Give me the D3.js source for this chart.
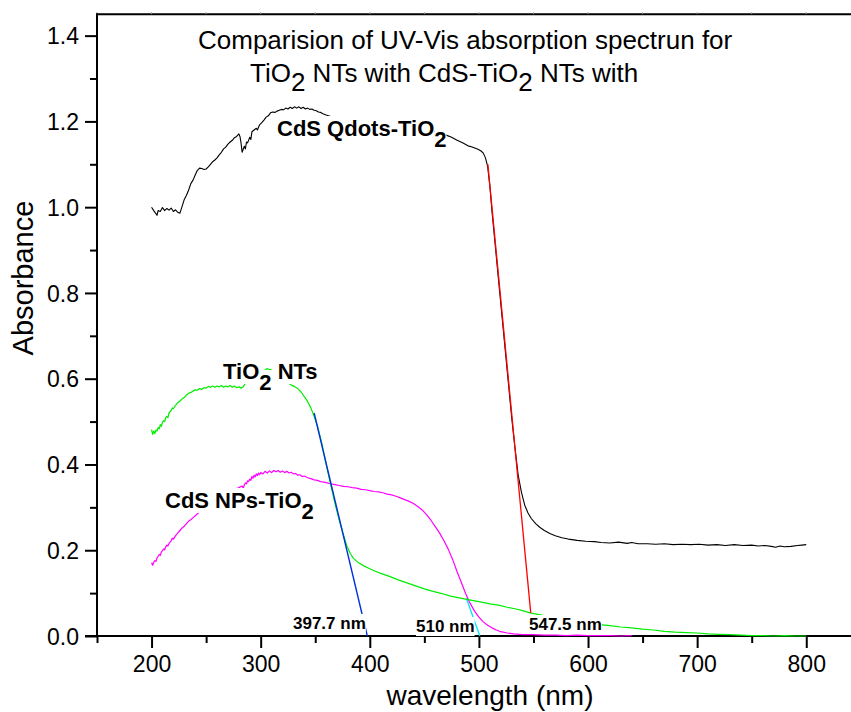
<!DOCTYPE html>
<html><head><meta charset="utf-8">
<script src="https://cdn.jsdelivr.net/npm/d3@7"></script>
<style>
body{margin:0;background:#fff}
svg{display:block}
text{font-family:"Liberation Sans",Arial,Helvetica,sans-serif;fill:#000}
</style>
</head><body>
<svg id="chart" width="851" height="712"></svg>
<script>
// ---------------- DATA ----------------
const xMajorTicks = [200, 300, 400, 500, 600, 700, 800];
const xMinorTicks = [150, 250, 350, 450, 550, 650, 750];
const yMajorTicks = [0.0, 0.2, 0.4, 0.6, 0.8, 1.0, 1.2, 1.4];
const yMinorTicks = [0.1, 0.3, 0.5, 0.7, 0.9, 1.1, 1.3];

const titleLine1 = [{t: "Comparision of UV-Vis absorption spectrun for"}];
const titleLine2 = [{t: "TiO"}, {t: "2", sub: true}, {t: " NTs with CdS-TiO"}, {t: "2", sub: true}, {t: " NTs with"}];
const xAxisTitle = "wavelength (nm)";
const yAxisTitle = "Absorbance";

const labelQdots = [{t: "CdS Qdots-TiO"}, {t: "2", sub: true}];
const labelNTs = [{t: "TiO"}, {t: "2", sub: true}, {t: " NTs"}];
const labelNPs = [{t: "CdS NPs-TiO"}, {t: "2", sub: true}];
const edgeLabels = ["397.7 nm", "510 nm", "547.5 nm"];

// CdS Qdots-TiO2 (black)
const qdotsWl = [200,202,204,205,206,208,210,212,214,216,218,220,222,224,226,228,230,232,234,236,238,240,242,244,246,248,250,252,254,256,258,260,262,264,266,268,270,272,274,276,278,280,281,282,283,284,285,286,287,288,290,291,292,294,296,297,299,301,303,305,307,309,311,313,315,317,319,321,323,325,327,329,331,333,335,337,339,341,343,345,347,349,351,353,355,357,360,370,380,390,400,410,420,430,440,450,460,470,475,480,485,490,493,495,498,500,502,504,506,508,510,512,515,518,521,524,527,530,533,536,539,542,545,548,552,556,560,565,570,576,582,590,598,606,612,620,628,636,640,646,654,662,670,678,686,694,702,710,718,726,734,742,750,756,762,768,772,776,780,786,792,796,800];
const qdotsAbs = [1.000,0.992,0.985,0.981,0.992,0.990,0.999,0.992,0.997,0.993,0.998,0.990,0.994,0.988,0.986,1.002,1.018,1.028,1.040,1.055,1.063,1.075,1.086,1.091,1.090,1.088,1.089,1.094,1.100,1.106,1.110,1.115,1.122,1.128,1.136,1.140,1.147,1.152,1.156,1.162,1.165,1.171,1.165,1.150,1.128,1.135,1.142,1.136,1.152,1.150,1.163,1.158,1.176,1.180,1.184,1.180,1.192,1.197,1.203,1.210,1.213,1.220,1.222,1.221,1.224,1.226,1.228,1.227,1.231,1.229,1.233,1.230,1.234,1.231,1.234,1.230,1.233,1.229,1.231,1.228,1.229,1.226,1.225,1.222,1.221,1.218,1.215,1.207,1.200,1.195,1.192,1.190,1.188,1.186,1.183,1.180,1.176,1.168,1.163,1.156,1.150,1.143,1.141,1.139,1.136,1.134,1.131,1.126,1.115,1.095,1.050,0.990,0.910,0.830,0.750,0.670,0.590,0.510,0.440,0.375,0.335,0.305,0.287,0.274,0.262,0.253,0.246,0.239,0.234,0.229,0.226,0.223,0.221,0.220,0.218,0.217,0.219,0.216,0.218,0.215,0.215,0.214,0.215,0.213,0.214,0.213,0.214,0.212,0.213,0.211,0.213,0.211,0.212,0.210,0.211,0.209,0.207,0.210,0.208,0.209,0.211,0.212,0.213];

// TiO2 NTs (green)
const ntsWl = [200,201,202,203,204,205,206,207,208,209,210,211,212,213,214,215,216,218,219,220,222,224,226,228,230,232,234,236,238,240,242,244,246,248,250,252,254,256,258,260,262,264,266,268,270,272,274,276,278,280,282,284,286,288,292,296,300,304,306,308,310,314,318,322,326,328,331,334,337,340,343,346,349,352,356,360,364,368,372,376,379,382,385,390,395,400,405,410,418,426,434,442,450,458,466,474,482,490,500,510,518,526,534,540,547,555,565,575,585,595,605,613,620,630,640,650,660,670,680,690,700,710,720,730,740,750,760,770,780,790,800];
const ntsAbs = [0.481,0.470,0.478,0.472,0.480,0.478,0.486,0.483,0.493,0.489,0.498,0.502,0.500,0.509,0.512,0.509,0.520,0.526,0.532,0.530,0.538,0.544,0.548,0.553,0.556,0.562,0.566,0.568,0.571,0.574,0.573,0.577,0.575,0.579,0.578,0.582,0.580,0.583,0.580,0.583,0.581,0.584,0.580,0.583,0.581,0.584,0.580,0.583,0.579,0.581,0.578,0.581,0.590,0.598,0.606,0.612,0.617,0.620,0.624,0.621,0.622,0.617,0.608,0.598,0.589,0.585,0.582,0.577,0.569,0.558,0.547,0.532,0.512,0.490,0.450,0.400,0.355,0.310,0.270,0.235,0.210,0.193,0.181,0.170,0.163,0.157,0.151,0.146,0.139,0.131,0.124,0.117,0.110,0.104,0.099,0.093,0.089,0.085,0.080,0.075,0.072,0.067,0.063,0.059,0.054,0.050,0.045,0.040,0.035,0.031,0.028,0.026,0.024,0.021,0.019,0.016,0.014,0.011,0.009,0.008,0.007,0.005,0.004,0.003,0.002,0.001,0.001,0.000,0.001,0.000,0.000];

// CdS NPs-TiO2 (magenta)
const npsWl = [200,201,202,203,204,205,206,207,208,209,210,211,212,213,214,215,216,218,219,220,222,224,226,228,230,232,234,236,238,240,242,244,250,256,262,268,274,280,283,284,285,286,287,288,289,290,291,292,293,294,295,296,297,298,299,300,302,304,306,308,310,312,314,316,318,320,322,324,326,328,330,332,334,336,338,340,343,346,349,352,355,358,361,364,368,372,376,380,384,388,392,396,400,404,408,412,416,420,424,428,432,436,440,444,448,452,456,460,464,468,472,476,480,484,488,492,496,500,504,508,512,516,520,526,532,540,550,560,570,580,590,600,610,620,630,640];
const npsAbs = [0.171,0.165,0.172,0.176,0.174,0.182,0.186,0.190,0.188,0.196,0.199,0.203,0.201,0.208,0.212,0.210,0.216,0.222,0.228,0.226,0.234,0.240,0.246,0.252,0.256,0.262,0.268,0.271,0.276,0.280,0.285,0.289,0.300,0.312,0.322,0.331,0.339,0.346,0.350,0.344,0.352,0.357,0.355,0.362,0.360,0.366,0.363,0.372,0.368,0.375,0.371,0.378,0.374,0.380,0.376,0.381,0.378,0.384,0.380,0.385,0.381,0.386,0.383,0.386,0.382,0.385,0.381,0.384,0.380,0.382,0.378,0.379,0.375,0.376,0.372,0.373,0.369,0.367,0.364,0.363,0.360,0.359,0.357,0.355,0.353,0.351,0.349,0.348,0.346,0.345,0.342,0.341,0.339,0.337,0.336,0.334,0.331,0.329,0.326,0.322,0.318,0.314,0.309,0.302,0.294,0.283,0.270,0.255,0.240,0.222,0.202,0.178,0.150,0.124,0.098,0.076,0.058,0.044,0.033,0.025,0.019,0.014,0.010,0.007,0.005,0.003,0.003,0.002,0.002,0.001,0.002,0.001,0.001,0.001,0.000,0.001];

// tangent (band-edge) lines
const redTangentWl = [508.2, 547.5];
const redTangentAbs = [1.10, 0.054];
const blueTangentWl = [349, 397.7];
const blueTangentAbs = [0.52, 0.0];
const cyanTangentWl = [488.5, 500.8];
const cyanTangentAbs = [0.088, 0.0];

// ---------------- CHART ----------------
const svg = d3.select("#chart");
const W = 851, H = 712;
const x = d3.scaleLinear().domain([150, 841]).range([97, 851]);
const y = d3.scaleLinear().domain([0, 1.45]).range([636, 14.2]);

const zip = (a, b) => a.map((v, i) => [v, b[i]]);
const line = d3.line().x(d => x(d[0])).y(d => y(d[1]));

// frame (top line)
svg.append("line").attr("x1", 97).attr("x2", W).attr("y1", y(1.45)).attr("y2", y(1.45))
  .attr("stroke", "#000").attr("stroke-width", 2);
// faint top ticks
svg.append("g").selectAll("line").data(xMajorTicks.concat(xMinorTicks)).join("line")
  .attr("x1", d => x(d)).attr("x2", d => x(d)).attr("y1", y(1.45)).attr("y2", y(1.45) - 2)
  .attr("stroke", "#999").attr("stroke-width", 1);

// bottom axis
const xAxisMajor = d3.axisBottom(x).tickValues(xMajorTicks).tickSize(12).tickPadding(6).tickFormat(d3.format("d"));
const gx = svg.append("g").attr("transform", `translate(0,${y(0)})`).call(xAxisMajor);
gx.select(".domain").remove();
gx.selectAll(".tick line").attr("stroke", "#000").attr("stroke-width", 2);
gx.selectAll(".tick text").attr("font-size", 23).attr("font-family", "Liberation Sans, Arial, sans-serif").attr("dy", "0.71em").attr("y", 19.5);
const xAxisMinor = d3.axisBottom(x).tickValues(xMinorTicks).tickSize(7).tickFormat("");
const gxm = svg.append("g").attr("transform", `translate(0,${y(0)})`).call(xAxisMinor);
gxm.select(".domain").remove();
gxm.selectAll(".tick line").attr("stroke", "#000").attr("stroke-width", 2);
svg.append("line").attr("x1", 85).attr("x2", W).attr("y1", y(0)).attr("y2", y(0))
  .attr("stroke", "#000").attr("stroke-width", 2);

// left axis
const yAxisMajor = d3.axisLeft(y).tickValues(yMajorTicks).tickSize(12).tickPadding(6).tickFormat(d3.format(".1f"));
const gy = svg.append("g").attr("transform", `translate(97,0)`).call(yAxisMajor);
gy.select(".domain").remove();
gy.selectAll(".tick line").attr("stroke", "#000").attr("stroke-width", 2);
gy.selectAll(".tick text").attr("font-size", 23).attr("font-family", "Liberation Sans, Arial, sans-serif").attr("x", -18).attr("dy", "0.35em");
const yAxisMinor = d3.axisLeft(y).tickValues(yMinorTicks).tickSize(7).tickFormat("");
const gym = svg.append("g").attr("transform", `translate(97,0)`).call(yAxisMinor);
gym.select(".domain").remove();
gym.selectAll(".tick line").attr("stroke", "#000").attr("stroke-width", 2);
svg.append("line").attr("x1", 97).attr("x2", 97).attr("y1", y(1.45) - 1).attr("y2", y(0) + 1)
  .attr("stroke", "#000").attr("stroke-width", 2);

// axis titles
svg.append("text").attr("x", 490).attr("y", 705).attr("text-anchor", "middle")
  .attr("font-size", 28).text(xAxisTitle);
svg.append("text").attr("transform", "translate(33,278) rotate(-90)").attr("text-anchor", "middle")
  .attr("font-size", 29).text(yAxisTitle);

// series
const plot = svg.append("g");
const series = [
  {wl: qdotsWl, abs: qdotsAbs, color: "#000000", w: 1.1},
  {wl: cyanTangentWl, abs: cyanTangentAbs, color: "#00e5ff", w: 1.3},
  {wl: npsWl, abs: npsAbs, color: "#ff00ff", w: 1.2},
  {wl: ntsWl, abs: ntsAbs, color: "#00ee00", w: 1.2},
  {wl: redTangentWl, abs: redTangentAbs, color: "#ff0000", w: 1.3},
  {wl: blueTangentWl, abs: blueTangentAbs, color: "#0030e0", w: 1.4}
];
plot.selectAll("path").data(series).join("path")
  .attr("d", d => line(zip(d.wl, d.abs)))
  .attr("fill", "none").attr("stroke", d => d.color).attr("stroke-width", d => d.w)
  .attr("stroke-linejoin", "round");

// rich text helper (with optional white boxes behind each piece)
function richText(parent, parts, x0, y0, size, weight, subShift, boxed) {
  const g = parent.append("g");
  const boxes = g.append("g");
  const texts = g.append("g");
  let cx = x0;
  parts.forEach(p => {
    const t = texts.append("text").attr("x", cx).attr("y", y0 + (p.sub ? subShift : 0))
      .attr("font-size", size).attr("font-weight", weight).style("white-space", "pre").text(p.t);
    const node = t.node();
    if (boxed) {
      const bb = node.getBBox();
      boxes.append("rect").attr("x", bb.x).attr("y", bb.y).attr("width", bb.width).attr("height", bb.height)
        .attr("fill", "#fff");
    }
    cx += node.getComputedTextLength();
  });
  return g;
}

// title
richText(svg, titleLine1, 198, 49, 26, "normal", 9, false);
richText(svg, titleLine2, 250, 82, 26, "normal", 9, false);

// curve labels
richText(svg, labelQdots, 277, 136, 22, "bold", 11, true);
richText(svg, labelNTs, 223, 379, 22, "bold", 11, true);
richText(svg, labelNPs, 165, 508, 22, "bold", 11, true);

// band-edge labels
richText(svg, [{t: edgeLabels[0]}], 293, 629, 17, "bold", 0, true);
richText(svg, [{t: edgeLabels[1]}], 416, 632, 17, "bold", 0, true);
richText(svg, [{t: edgeLabels[2]}], 529, 630, 17, "bold", 0, true);
</script>
</body></html>
